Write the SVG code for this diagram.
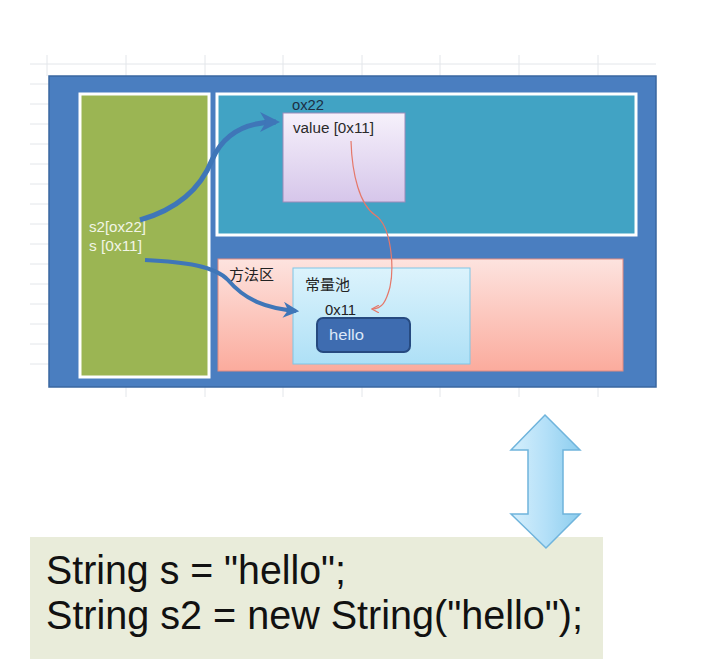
<svg xmlns="http://www.w3.org/2000/svg" width="714" height="659" viewBox="0 0 714 659">
<defs>
<linearGradient id="gPink" x1="0" y1="0" x2="0" y2="1"><stop offset="0" stop-color="#fde3df"/><stop offset="1" stop-color="#fbab9d"/></linearGradient>
<linearGradient id="gPurple" x1="0" y1="0" x2="0" y2="1"><stop offset="0" stop-color="#f6f1fb"/><stop offset="1" stop-color="#d6c6ea"/></linearGradient>
<linearGradient id="gCyan" x1="0" y1="0" x2="0" y2="1"><stop offset="0" stop-color="#dcf3fc"/><stop offset="1" stop-color="#aee0f6"/></linearGradient>
<linearGradient id="gArrow" x1="0" y1="0" x2="1" y2="0"><stop offset="0" stop-color="#d6effc"/><stop offset="0.5" stop-color="#b4e0f8"/><stop offset="1" stop-color="#8ccdee"/></linearGradient>
<marker id="mBlue" viewBox="0 0 10 10" refX="8" refY="5" markerWidth="4" markerHeight="4" orient="auto" markerUnits="strokeWidth"><path d="M0,0 L10,5 L0,10 L3,5 Z" fill="#3f76b8"/></marker>
<marker id="mRed" viewBox="0 0 10 10" refX="9" refY="5" markerWidth="8" markerHeight="8" orient="auto" markerUnits="userSpaceOnUse"><path d="M0,0 L9,5 L0,10" fill="none" stroke="#e5786a" stroke-width="1.5"/></marker>
<style>
.grid{stroke:#e3e6ea;stroke-width:1}
.lbl{font-family:"Liberation Sans","Noto Sans CJK SC",sans-serif;font-size:14px}
.cjk{font-family:"Noto Sans CJK SC",sans-serif;font-size:15px}
.code{font-family:"Liberation Sans",sans-serif;font-size:40px;fill:#111}
</style>
</defs>
<rect width="714" height="659" fill="#ffffff"/>
<g id="grid">
<line class="grid" x1="30" y1="64" x2="656" y2="64"/>
<line class="grid" x1="47" y1="55" x2="47" y2="76"/>
<line class="grid" x1="126" y1="55" x2="126" y2="76"/>
<line class="grid" x1="205" y1="55" x2="205" y2="76"/>
<line class="grid" x1="283" y1="55" x2="283" y2="76"/>
<line class="grid" x1="362" y1="55" x2="362" y2="76"/>
<line class="grid" x1="440" y1="55" x2="440" y2="76"/>
<line class="grid" x1="519" y1="55" x2="519" y2="76"/>
<line class="grid" x1="598" y1="55" x2="598" y2="76"/>
<line class="grid" x1="30" y1="84" x2="49" y2="84"/>
<line class="grid" x1="30" y1="104" x2="49" y2="104"/>
<line class="grid" x1="30" y1="124" x2="49" y2="124"/>
<line class="grid" x1="30" y1="144" x2="49" y2="144"/>
<line class="grid" x1="30" y1="164" x2="49" y2="164"/>
<line class="grid" x1="30" y1="184" x2="49" y2="184"/>
<line class="grid" x1="30" y1="204" x2="49" y2="204"/>
<line class="grid" x1="30" y1="224" x2="49" y2="224"/>
<line class="grid" x1="30" y1="244" x2="49" y2="244"/>
<line class="grid" x1="30" y1="264" x2="49" y2="264"/>
<line class="grid" x1="30" y1="284" x2="49" y2="284"/>
<line class="grid" x1="30" y1="304" x2="49" y2="304"/>
<line class="grid" x1="30" y1="324" x2="49" y2="324"/>
<line class="grid" x1="30" y1="344" x2="49" y2="344"/>
<line class="grid" x1="30" y1="364" x2="49" y2="364"/>
<line class="grid" x1="126" y1="387" x2="126" y2="397"/>
<line class="grid" x1="205" y1="387" x2="205" y2="397"/>
<line class="grid" x1="283" y1="387" x2="283" y2="397"/>
<line class="grid" x1="362" y1="387" x2="362" y2="397"/>
<line class="grid" x1="440" y1="387" x2="440" y2="397"/>
<line class="grid" x1="519" y1="387" x2="519" y2="397"/>
<line class="grid" x1="598" y1="387" x2="598" y2="397"/>
</g>
<g id="memory">
<rect x="49" y="76" width="607" height="311" fill="#4a7ec0" stroke="#3a67a0" stroke-width="1.5"/>
</g>
<g id="stack">
<rect x="80" y="94" width="129" height="283" fill="#9bb553" stroke="#ffffff" stroke-width="3"/>
<text class="lbl" x="89" y="232" fill="#f2f5e6" textLength="57" lengthAdjust="spacingAndGlyphs">s2[ox22]</text>
<text class="lbl" x="89" y="251" fill="#f2f5e6" textLength="53" lengthAdjust="spacingAndGlyphs">s [0x11]</text>
</g>
<g id="heap">
<rect x="217" y="94" width="419" height="141" fill="#41a3c4" stroke="#ffffff" stroke-width="3"/>
</g>
<g id="object">
<text class="lbl" x="292" y="110" fill="#1c2f44" textLength="32" lengthAdjust="spacingAndGlyphs">ox22</text>
<rect x="283" y="113" width="122" height="89" fill="url(#gPurple)" stroke="#9c8bb9" stroke-width="1"/>
<text class="lbl" x="293" y="133" fill="#2a2a2a" textLength="81" lengthAdjust="spacingAndGlyphs">value [0x11]</text>
</g>
<g id="methodArea">
<rect x="218" y="259" width="405" height="112" fill="url(#gPink)" stroke="#e28b80" stroke-width="1"/>
<text class="cjk" x="229" y="280" fill="#222">方法区</text>
</g>
<g id="constantPool">
<rect x="293" y="268" width="177" height="96" fill="url(#gCyan)" stroke="#7fc6e6" stroke-width="1"/>
<text class="cjk" x="305" y="290" fill="#222">常量池</text>
<text class="lbl" x="325" y="315" fill="#222" textLength="31" lengthAdjust="spacingAndGlyphs">0x11</text>
</g>
<g id="hello">
<rect x="317" y="318" width="93" height="34" rx="6" fill="#3e6cb0" stroke="#264a80" stroke-width="2"/>
<text class="lbl" x="329" y="340" fill="#dce8f8" textLength="35" lengthAdjust="spacingAndGlyphs">hello</text>
</g>
<g id="connectors" fill="none">
<path d="M140,220 C175,210 200,190 212,160 C225,130 250,122 276,122" stroke="#3f76b8" stroke-width="5" marker-end="url(#mBlue)"/>
<path d="M145,260 C185,262 215,266 228,280 C245,300 265,308 296,311" stroke="#3f76b8" stroke-width="4" marker-end="url(#mBlue)"/>
<path d="M351,141 C352,175 360,205 375,215 C392,226 394,268 390,287 C386,302 382,309 372,309" stroke="#e5786a" stroke-width="1.2" marker-end="url(#mRed)"/>
</g>
<g id="code">
<rect x="30" y="537" width="573" height="122" fill="#e9ecda"/>
<text class="code" x="46" y="584" textLength="300" lengthAdjust="spacingAndGlyphs">String s = "hello";</text>
<text class="code" x="46" y="629" textLength="537" lengthAdjust="spacingAndGlyphs">String s2 = new String("hello");</text>
</g>
<g id="doubleArrow">
<path d="M545,415 L580,450 L563,450 L563,514 L580,514 L546,548 L511,514 L528,514 L528,450 L511,450 Z" fill="url(#gArrow)" stroke="#6fb4dc" stroke-width="1.5"/>
</g>
</svg>
